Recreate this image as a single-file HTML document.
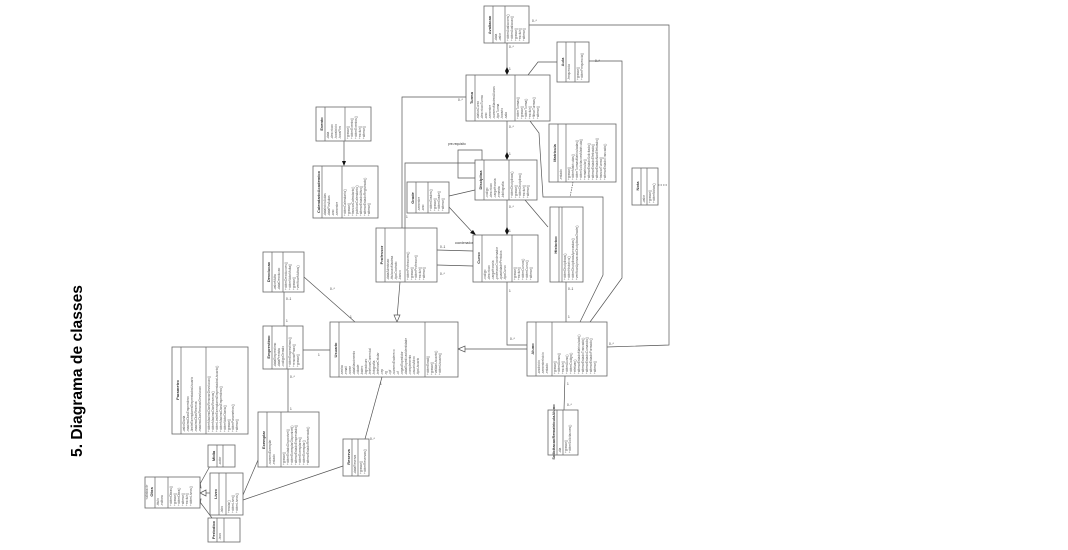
<!DOCTYPE html>
<html><head><meta charset="utf-8"><style>
html,body{margin:0;padding:0;background:#fff;width:1068px;height:550px;overflow:hidden}
svg{display:block}
text{font-family:"Liberation Sans",sans-serif;fill:#333}
.b{fill:#fff;stroke:#666;stroke-width:0.8}
.d{stroke:#666;stroke-width:0.7}
.l{stroke:#555;stroke-width:0.7;fill:none}
.n{font-size:4px;font-weight:bold}
.t{font-size:3.2px;fill:#555}
.m{font-size:3.2px;fill:#666}
</style></head><body>
<svg width="1068" height="550" viewBox="0 0 1068 550" xmlns="http://www.w3.org/2000/svg">
<text x="0" y="0" transform="translate(82,457) rotate(-90)" font-size="16" font-weight="bold" style="fill:#000" textLength="172" lengthAdjust="spacingAndGlyphs">5. Diagrama de classes</text>

<g class="l">
<line x1="210" y1="466" x2="200" y2="484"/>
<line x1="211" y1="493" x2="203" y2="493"/>
<line x1="212" y1="518" x2="200" y2="502"/>
<line x1="243" y1="495" x2="258" y2="460"/>
<line x1="243" y1="500" x2="343" y2="466"/>
<line x1="288" y1="369" x2="288" y2="412"/>
<line x1="284" y1="292" x2="284" y2="326"/>
<line x1="303" y1="350" x2="330" y2="350"/>
<line x1="304" y1="277" x2="355" y2="322"/>
<line x1="382" y1="377" x2="365" y2="439"/>
<line x1="400" y1="282" x2="397" y2="318"/>
<line x1="527" y1="349" x2="462" y2="349"/>
<line x1="437" y1="250" x2="473" y2="251"/>
<line x1="437" y1="265" x2="473" y2="266"/>
<polyline points="507,282 507,345 527,345"/>
<line x1="566" y1="282" x2="566" y2="322"/>
<line x1="565" y1="376" x2="564" y2="410"/>
<line x1="507" y1="200" x2="507" y2="232"/>
<line x1="449" y1="207" x2="474" y2="234"/>
<line x1="449" y1="196" x2="475" y2="190"/>
<line x1="507" y1="121" x2="507" y2="157"/>
<line x1="507" y1="43" x2="507" y2="72"/>
<polyline points="475,178 458,178 458,150 482,150 482,160"/>
<polyline points="402,228 402,97 466,97"/>
<polyline points="405,228 405,163 475,163"/>
<polyline points="528,75 538,62 557,62"/>
<polyline points="530,121 539,133 543,197 603,197 603,275 580,322"/>
<polyline points="589,61 622,61 622,278 590,322"/>
<polyline points="529,25 669,25 669,345 607,347"/>
<line x1="525" y1="200" x2="548" y2="227"/>
<line x1="344" y1="141" x2="344" y2="163"/>
<line x1="573" y1="182" x2="570" y2="197" stroke-dasharray="1.5,1"/>
<line x1="658" y1="185" x2="668" y2="185" stroke-dasharray="1.5,1"/>
</g>
<g fill="#fff" stroke="#555" stroke-width="0.7">
<polygon points="200,481 201,488 196,486"/>
<polygon points="200,493 206,490 206,496"/>
<polygon points="200,505 196,500 201,499"/>
<polygon points="397,322 394,315 400,315"/>
<polygon points="458,349 465,346 465,352"/>
</g>
<g fill="#111">
<polygon points="507,235 505,231 507,227 509,231"/>
<polygon points="507,160 505,156 507,152 509,156"/>
<polygon points="507,75 505,71 507,67 509,71"/>
<polygon points="476,235 470,233 473,230"/>
<polygon points="344,166 342,161 346,161"/>
</g>
<g class="m">
<text x="296" y="348">0..*</text><text x="318" y="356">1</text>
<text x="286" y="300">0..1</text><text x="286" y="322">1</text>
<text x="290" y="378">0..*</text><text x="290" y="410">1</text>
<text x="330" y="290">0..*</text><text x="350" y="318">1</text>
<text x="370" y="440">0..*</text><text x="380" y="385">1</text>
<text x="509" y="48">0..*</text><text x="509" y="70">1</text>
<text x="509" y="128">0..*</text><text x="509" y="155">1</text>
<text x="509" y="208">0..*</text><text x="509" y="232">1</text>
<text x="440" y="248">0..1</text><text x="440" y="275">0..*</text>
<text x="509" y="292">1</text><text x="510" y="340">0..*</text>
<text x="568" y="290">0..1</text><text x="568" y="318">1</text>
<text x="567" y="385">1</text><text x="567" y="406">0..*</text>
<text x="532" y="22">0..*</text><text x="609" y="345">0..*</text>
<text x="595" y="62">0..*</text><text x="560" y="58">1</text>
<text x="458" y="101">0..*</text><text x="406" y="218">1</text>
<text x="448" y="145">pre-requisito</text>
<text x="455" y="244">coordenador</text>
</g>

<g>
<rect class="b" x="145" y="477" width="55" height="31"/><line class="d" x1="155" y1="477" x2="155" y2="508"/><line class="d" x1="168" y1="477" x2="168" y2="508"/>
<text class="t" transform="translate(148,492) rotate(-90)" text-anchor="middle">«abstract»</text>
<text class="n" transform="translate(153,492) rotate(-90)" text-anchor="middle">Obra</text>
<text class="t" transform="translate(159,506) rotate(-90)">-titulo</text><text class="t" transform="translate(163,506) rotate(-90)">-editora</text>
<text class="t" transform="translate(172,506) rotate(-90)">+obterObras()</text><text class="t" transform="translate(176,506) rotate(-90)">+gravar()</text><text class="t" transform="translate(180,506) rotate(-90)">+obterObra()</text><text class="t" transform="translate(184,506) rotate(-90)">+alterar()</text><text class="t" transform="translate(188,506) rotate(-90)">+excluir()</text><text class="t" transform="translate(192,506) rotate(-90)">+obterLivros()</text>

<rect class="b" x="208" y="445" width="27" height="22"/><line class="d" x1="217" y1="445" x2="217" y2="467"/><line class="d" x1="223" y1="445" x2="223" y2="467"/>
<text class="n" transform="translate(215,456) rotate(-90)" text-anchor="middle">Midia</text><text class="t" transform="translate(221,465) rotate(-90)">-autor</text>

<rect class="b" x="210" y="473" width="33" height="42"/><line class="d" x1="219" y1="473" x2="219" y2="515"/><line class="d" x1="226" y1="473" x2="226" y2="515"/>
<text class="n" transform="translate(217,494) rotate(-90)" text-anchor="middle">Livro</text><text class="t" transform="translate(223,513) rotate(-90)">-isbn</text>
<text class="t" transform="translate(230,513) rotate(-90)">+enviar()</text><text class="t" transform="translate(234,513) rotate(-90)">+obterLivro()</text><text class="t" transform="translate(238,513) rotate(-90)">+obterLivros()</text>

<rect class="b" x="208" y="518" width="32" height="24"/><line class="d" x1="217" y1="518" x2="217" y2="542"/><line class="d" x1="224" y1="518" x2="224" y2="542"/>
<text class="n" transform="translate(215,530) rotate(-90)" text-anchor="middle">Periodico</text><text class="t" transform="translate(221,540) rotate(-90)">-issn</text>

<rect class="b" x="172" y="347" width="76" height="87"/><line class="d" x1="181" y1="347" x2="181" y2="434"/><line class="d" x1="206" y1="347" x2="206" y2="434"/>
<text class="n" transform="translate(179,390) rotate(-90)" text-anchor="middle">Parametro</text>
<text class="t" transform="translate(185,432) rotate(-90)">-valorDiaria</text><text class="t" transform="translate(189,432) rotate(-90)">-maximoDiasEmprestimo</text><text class="t" transform="translate(193,432) rotate(-90)">-limiteExemplaresEmprestadosUsuario</text><text class="t" transform="translate(197,432) rotate(-90)">-maximoDiasReserva</text><text class="t" transform="translate(201,432) rotate(-90)">-maximoDiasRenovarDevolucao</text>
<text class="t" transform="translate(210,432) rotate(-90)">+obterMaximoDiasRenovarDevolucao()</text><text class="t" transform="translate(214,432) rotate(-90)">+obterMaximoDiasReserva()</text><text class="t" transform="translate(218,432) rotate(-90)">+obterLimiteExemplaresEmprestadosUsuario()</text><text class="t" transform="translate(222,432) rotate(-90)">+obterMaximoDiasEmprestimo()</text><text class="t" transform="translate(226,432) rotate(-90)">+obterValorDiaria()</text><text class="t" transform="translate(230,432) rotate(-90)">+gravar()</text><text class="t" transform="translate(234,432) rotate(-90)">+obterParametros()</text><text class="t" transform="translate(238,432) rotate(-90)">+alterar()</text>

<rect class="b" x="258" y="412" width="61" height="55"/><line class="d" x1="267" y1="412" x2="267" y2="467"/><line class="d" x1="281" y1="412" x2="281" y2="467"/>
<text class="n" transform="translate(265,440) rotate(-90)" text-anchor="middle">Exemplar</text>
<text class="t" transform="translate(271,465) rotate(-90)">-numeroExemplar</text><text class="t" transform="translate(275,465) rotate(-90)">-estado</text>
<text class="t" transform="translate(285,465) rotate(-90)">+gravar()</text><text class="t" transform="translate(289,465) rotate(-90)">+obterEstadoDisponivel()</text><text class="t" transform="translate(293,465) rotate(-90)">+obterExemplarDisponivel()</text><text class="t" transform="translate(297,465) rotate(-90)">+alterarEstadoEmprestado()</text><text class="t" transform="translate(301,465) rotate(-90)">+obterExemplares()</text><text class="t" transform="translate(305,465) rotate(-90)">+obterExemplar()</text><text class="t" transform="translate(309,465) rotate(-90)">+alterarEstadoReservado()</text>

<rect class="b" x="263" y="326" width="40" height="43"/><line class="d" x1="272" y1="326" x2="272" y2="369"/><line class="d" x1="287" y1="326" x2="287" y2="369"/>
<text class="n" transform="translate(270,347) rotate(-90)" text-anchor="middle">Emprestimo</text>
<text class="t" transform="translate(276,367) rotate(-90)">-dataEmprestimo</text><text class="t" transform="translate(280,367) rotate(-90)">-dataPrevista</text><text class="t" transform="translate(284,367) rotate(-90)">-codigoGerado</text>
<text class="t" transform="translate(291,367) rotate(-90)">+obterEmprestimos()</text><text class="t" transform="translate(295,367) rotate(-90)">+renovarPrazo()</text><text class="t" transform="translate(299,367) rotate(-90)">+gravar()</text>

<rect class="b" x="263" y="252" width="41" height="40"/><line class="d" x1="272" y1="252" x2="272" y2="292"/><line class="d" x1="283" y1="252" x2="283" y2="292"/>
<text class="n" transform="translate(270,272) rotate(-90)" text-anchor="middle">Devolucao</text>
<text class="t" transform="translate(276,290) rotate(-90)">-valorMulta</text><text class="t" transform="translate(280,290) rotate(-90)">-dataDevolucao</text>
<text class="t" transform="translate(287,290) rotate(-90)">+obterDevolucoes()</text><text class="t" transform="translate(291,290) rotate(-90)">+obterValorMulta()</text><text class="t" transform="translate(295,290) rotate(-90)">+gravar()</text><text class="t" transform="translate(299,290) rotate(-90)">+verificarMultas()</text>

<rect class="b" x="330" y="322" width="128" height="55"/><line class="d" x1="339" y1="322" x2="339" y2="377"/><line class="d" x1="425" y1="322" x2="425" y2="377"/>
<text class="n" transform="translate(337,350) rotate(-90)" text-anchor="middle">Usuario</text>
<text class="t" transform="translate(343,375) rotate(-90)">-senha</text><text class="t" transform="translate(347,375) rotate(-90)">-email</text><text class="t" transform="translate(351,375) rotate(-90)">-nome</text><text class="t" transform="translate(355,375) rotate(-90)">-dataNascimento</text><text class="t" transform="translate(359,375) rotate(-90)">-cidade</text><text class="t" transform="translate(363,375) rotate(-90)">-bairro</text><text class="t" transform="translate(367,375) rotate(-90)">-logradouro</text><text class="t" transform="translate(371,375) rotate(-90)">-telefoneComercial</text><text class="t" transform="translate(375,375) rotate(-90)">-fotografia</text><text class="t" transform="translate(379,375) rotate(-90)">-telefoneCelular</text><text class="t" transform="translate(383,375) rotate(-90)">-cep</text><text class="t" transform="translate(387,375) rotate(-90)">-rg</text><text class="t" transform="translate(391,375) rotate(-90)">-cpf</text><text class="t" transform="translate(395,375) rotate(-90)">-numeroEndereco</text><text class="t" transform="translate(399,375) rotate(-90)">-uf</text><text class="t" transform="translate(403,375) rotate(-90)">-orgaoExpedidor</text><text class="t" transform="translate(407,375) rotate(-90)">-dataExpedicaoIdentidade</text><text class="t" transform="translate(411,375) rotate(-90)">-complemento</text><text class="t" transform="translate(415,375) rotate(-90)">-usuarioAtivo</text><text class="t" transform="translate(419,375) rotate(-90)">-tipoUsuario</text>
<text class="t" transform="translate(429,375) rotate(-90)">+obterEmail()</text><text class="t" transform="translate(433,375) rotate(-90)">+gravar()</text><text class="t" transform="translate(437,375) rotate(-90)">+validarUsuario()</text><text class="t" transform="translate(441,375) rotate(-90)">+obterUsuario()</text>

<rect class="b" x="343" y="439" width="26" height="37"/><line class="d" x1="352" y1="439" x2="352" y2="476"/><line class="d" x1="358" y1="439" x2="358" y2="476"/>
<text class="n" transform="translate(350,457) rotate(-90)" text-anchor="middle">Reserva</text><text class="t" transform="translate(356,474) rotate(-90)">-dataReserva</text>
<text class="t" transform="translate(362,474) rotate(-90)">+gravar()</text><text class="t" transform="translate(366,474) rotate(-90)">+obterReservas()</text>

<rect class="b" x="376" y="228" width="61" height="54"/><line class="d" x1="385" y1="228" x2="385" y2="282"/><line class="d" x1="405" y1="228" x2="405" y2="282"/>
<text class="n" transform="translate(383,255) rotate(-90)" text-anchor="middle">Professor</text>
<text class="t" transform="translate(389,280) rotate(-90)">-dataAdmissao</text><text class="t" transform="translate(393,280) rotate(-90)">-titulacaoMaxima</text><text class="t" transform="translate(397,280) rotate(-90)">-tipoContrato</text><text class="t" transform="translate(401,280) rotate(-90)">-banco</text>
<text class="t" transform="translate(409,280) rotate(-90)">+obterProfessores()</text><text class="t" transform="translate(413,280) rotate(-90)">+gravar()</text><text class="t" transform="translate(417,280) rotate(-90)">+obterProfessor()</text><text class="t" transform="translate(421,280) rotate(-90)">+excluir()</text><text class="t" transform="translate(425,280) rotate(-90)">+alterar()</text>

<rect class="b" x="473" y="235" width="65" height="47"/><line class="d" x1="482" y1="235" x2="482" y2="282"/><line class="d" x1="512" y1="235" x2="512" y2="282"/>
<text class="n" transform="translate(480,258) rotate(-90)" text-anchor="middle">Curso</text>
<text class="t" transform="translate(486,280) rotate(-90)">-codigo</text><text class="t" transform="translate(490,280) rotate(-90)">-descricao</text><text class="t" transform="translate(494,280) rotate(-90)">-cargaHoraria</text><text class="t" transform="translate(498,280) rotate(-90)">-professorCoordenador</text><text class="t" transform="translate(502,280) rotate(-90)">-quantidadePeriodos</text><text class="t" transform="translate(506,280) rotate(-90)">-tipoCurso</text>
<text class="t" transform="translate(516,280) rotate(-90)">+gravar()</text><text class="t" transform="translate(520,280) rotate(-90)">+excluir()</text><text class="t" transform="translate(524,280) rotate(-90)">+obterCursos()</text><text class="t" transform="translate(528,280) rotate(-90)">+obterCurso()</text><text class="t" transform="translate(532,280) rotate(-90)">+alterar()</text>

<rect class="b" x="550" y="207" width="33" height="75"/><line class="d" x1="559" y1="207" x2="559" y2="282"/><line class="d" x1="562" y1="207" x2="562" y2="282"/>
<text class="n" transform="translate(557,245) rotate(-90)" text-anchor="middle">Historico</text>
<text class="t" transform="translate(566,280) rotate(-90)">+obterDisciplinas()</text><text class="t" transform="translate(570,280) rotate(-90)">+obterHistorico()</text><text class="t" transform="translate(574,280) rotate(-90)">+obterDisciplinasAprovadas()</text><text class="t" transform="translate(578,280) rotate(-90)">+verificarAprovacaoDisciplinasGrade()</text>

<rect class="b" x="407" y="182" width="42" height="31"/><line class="d" x1="416" y1="182" x2="416" y2="213"/><line class="d" x1="428" y1="182" x2="428" y2="213"/>
<text class="n" transform="translate(414,198) rotate(-90)" text-anchor="middle">Grade</text>
<text class="t" transform="translate(420,211) rotate(-90)">-semestre</text><text class="t" transform="translate(424,211) rotate(-90)">-ano</text>
<text class="t" transform="translate(432,211) rotate(-90)">+obterGrades()</text><text class="t" transform="translate(436,211) rotate(-90)">+gravar()</text><text class="t" transform="translate(440,211) rotate(-90)">+obterGrade()</text><text class="t" transform="translate(444,211) rotate(-90)">+alterar()</text>

<rect class="b" x="475" y="160" width="62" height="40"/><line class="d" x1="484" y1="160" x2="484" y2="200"/><line class="d" x1="509" y1="160" x2="509" y2="200"/>
<text class="n" transform="translate(482,180) rotate(-90)" text-anchor="middle">Disciplina</text>
<text class="t" transform="translate(488,198) rotate(-90)">-codigo</text><text class="t" transform="translate(492,198) rotate(-90)">-descricao</text><text class="t" transform="translate(496,198) rotate(-90)">-cargaHoraria</text><text class="t" transform="translate(500,198) rotate(-90)">-ementa</text><text class="t" transform="translate(504,198) rotate(-90)">-bibliografia</text>
<text class="t" transform="translate(513,198) rotate(-90)">+obterDisciplinas()</text><text class="t" transform="translate(517,198) rotate(-90)">+gravar()</text><text class="t" transform="translate(521,198) rotate(-90)">+obterDisciplina()</text><text class="t" transform="translate(525,198) rotate(-90)">+excluir()</text><text class="t" transform="translate(529,198) rotate(-90)">+alterar()</text>

<rect class="b" x="466" y="75" width="84" height="46"/><line class="d" x1="475" y1="75" x2="475" y2="121"/><line class="d" x1="515" y1="75" x2="515" y2="121"/>
<text class="n" transform="translate(473,98) rotate(-90)" text-anchor="middle">Turma</text>
<text class="t" transform="translate(479,119) rotate(-90)">-statusCurso</text><text class="t" transform="translate(483,119) rotate(-90)">-descricaoTurma</text><text class="t" transform="translate(487,119) rotate(-90)">-ano</text><text class="t" transform="translate(491,119) rotate(-90)">-semestre</text><text class="t" transform="translate(495,119) rotate(-90)">-numeroMaximoAlunos</text><text class="t" transform="translate(499,119) rotate(-90)">-tipoTurma</text><text class="t" transform="translate(503,119) rotate(-90)">-horario</text><text class="t" transform="translate(507,119) rotate(-90)">-sala</text>
<text class="t" transform="translate(519,119) rotate(-90)">+obterTurmas()</text><text class="t" transform="translate(523,119) rotate(-90)">+gravar()</text><text class="t" transform="translate(527,119) rotate(-90)">+obterTurma()</text><text class="t" transform="translate(531,119) rotate(-90)">+excluir()</text><text class="t" transform="translate(535,119) rotate(-90)">+filtrarTurmas()</text><text class="t" transform="translate(539,119) rotate(-90)">+alterar()</text>

<rect class="b" x="484" y="6" width="45" height="37"/><line class="d" x1="493" y1="6" x2="493" y2="43"/><line class="d" x1="505" y1="6" x2="505" y2="43"/>
<text class="n" transform="translate(491,25) rotate(-90)" text-anchor="middle">Avaliacao</text>
<text class="t" transform="translate(497,41) rotate(-90)">-data</text><text class="t" transform="translate(501,41) rotate(-90)">-valor</text>
<text class="t" transform="translate(509,41) rotate(-90)">+obterAvaliacoes()</text><text class="t" transform="translate(513,41) rotate(-90)">+obterAvaliacao()</text><text class="t" transform="translate(517,41) rotate(-90)">+gravar()</text><text class="t" transform="translate(521,41) rotate(-90)">+excluir()</text><text class="t" transform="translate(525,41) rotate(-90)">+alterar()</text>

<rect class="b" x="557" y="42" width="32" height="40"/><line class="d" x1="566" y1="42" x2="566" y2="82"/><line class="d" x1="575" y1="42" x2="575" y2="82"/>
<text class="n" transform="translate(564,62) rotate(-90)" text-anchor="middle">Aula</text>
<text class="t" transform="translate(570,80) rotate(-90)">-frequencia</text><text class="t" transform="translate(579,80) rotate(-90)">+gravar()</text><text class="t" transform="translate(583,80) rotate(-90)">+obterFrequencia()</text>

<rect class="b" x="549" y="124" width="67" height="58"/><line class="d" x1="558" y1="124" x2="558" y2="182"/><line class="d" x1="566" y1="124" x2="566" y2="182"/>
<text class="n" transform="translate(556,153) rotate(-90)" text-anchor="middle">Matricula</text>
<text class="t" transform="translate(562,180) rotate(-90)">-estado</text>
<text class="t" transform="translate(570,180) rotate(-90)">+gravar()</text><text class="t" transform="translate(574,180) rotate(-90)">+obterMatriculas()</text><text class="t" transform="translate(578,180) rotate(-90)">+obterTurmasMatriculadas()</text><text class="t" transform="translate(582,180) rotate(-90)">+obterSolicitacoesMatricula()</text><text class="t" transform="translate(586,180) rotate(-90)">+rematricular()</text><text class="t" transform="translate(590,180) rotate(-90)">+alterarEstadoSolicitado()</text><text class="t" transform="translate(594,180) rotate(-90)">+alterarEstadoEfetivado()</text><text class="t" transform="translate(598,180) rotate(-90)">+alterarEstadoNaoEfetivado()</text><text class="t" transform="translate(602,180) rotate(-90)">+trancarTurma()</text><text class="t" transform="translate(606,180) rotate(-90)">+alterarEstadoTrancado()</text>

<rect class="b" x="632" y="168" width="26" height="37"/><line class="d" x1="641" y1="168" x2="641" y2="205"/><line class="d" x1="647" y1="168" x2="647" y2="205"/>
<text class="n" transform="translate(639,186) rotate(-90)" text-anchor="middle">Nota</text><text class="t" transform="translate(645,203) rotate(-90)">-valor</text>
<text class="t" transform="translate(651,203) rotate(-90)">+gravar()</text><text class="t" transform="translate(655,203) rotate(-90)">+obterNotas()</text>

<rect class="b" x="316" y="107" width="55" height="34"/><line class="d" x1="325" y1="107" x2="325" y2="141"/><line class="d" x1="345" y1="107" x2="345" y2="141"/>
<text class="n" transform="translate(323,124) rotate(-90)" text-anchor="middle">Evento</text>
<text class="t" transform="translate(329,139) rotate(-90)">-data</text><text class="t" transform="translate(333,139) rotate(-90)">-descricao</text><text class="t" transform="translate(337,139) rotate(-90)">-horaInicio</text><text class="t" transform="translate(341,139) rotate(-90)">-horaFim</text>
<text class="t" transform="translate(349,139) rotate(-90)">+gravar()</text><text class="t" transform="translate(353,139) rotate(-90)">+obterEvento()</text><text class="t" transform="translate(357,139) rotate(-90)">+obterEventos()</text><text class="t" transform="translate(361,139) rotate(-90)">+excluir()</text><text class="t" transform="translate(365,139) rotate(-90)">+alterar()</text>

<rect class="b" x="313" y="166" width="65" height="52"/><line class="d" x1="322" y1="166" x2="322" y2="218"/><line class="d" x1="342" y1="166" x2="342" y2="218"/>
<text class="n" transform="translate(320,192) rotate(-90)" text-anchor="middle">CalendarioAcademico</text>
<text class="t" transform="translate(326,216) rotate(-90)">-dataInicioAulas</text><text class="t" transform="translate(330,216) rotate(-90)">-dataFimAulas</text><text class="t" transform="translate(334,216) rotate(-90)">-ano</text><text class="t" transform="translate(338,216) rotate(-90)">-semestre</text>
<text class="t" transform="translate(346,216) rotate(-90)">+obterCalendario()</text><text class="t" transform="translate(350,216) rotate(-90)">+gravar()</text><text class="t" transform="translate(354,216) rotate(-90)">+trancarCalendario()</text><text class="t" transform="translate(358,216) rotate(-90)">+publicarCalendario()</text><text class="t" transform="translate(362,216) rotate(-90)">+alterarEstadoAtivo()</text><text class="t" transform="translate(366,216) rotate(-90)">+alterarEstadoRegistrado()</text><text class="t" transform="translate(370,216) rotate(-90)">+alterar()</text>

<rect class="b" x="527" y="322" width="80" height="54"/><line class="d" x1="536" y1="322" x2="536" y2="376"/><line class="d" x1="552" y1="322" x2="552" y2="376"/>
<text class="n" transform="translate(534,349) rotate(-90)" text-anchor="middle">Aluno</text>
<text class="t" transform="translate(540,374) rotate(-90)">-anoInicio</text><text class="t" transform="translate(544,374) rotate(-90)">-semestreInicio</text><text class="t" transform="translate(548,374) rotate(-90)">-estado</text>
<text class="t" transform="translate(556,374) rotate(-90)">+gravar()</text><text class="t" transform="translate(560,374) rotate(-90)">+obterAlunos()</text><text class="t" transform="translate(564,374) rotate(-90)">+excluir()</text><text class="t" transform="translate(568,374) rotate(-90)">+obterAluno()</text><text class="t" transform="translate(572,374) rotate(-90)">+obterCodigo()</text><text class="t" transform="translate(576,374) rotate(-90)">+efetivar()</text><text class="t" transform="translate(580,374) rotate(-90)">+alterarEstadoMatriculado()</text><text class="t" transform="translate(584,374) rotate(-90)">+alterarEstadoTrancado()</text><text class="t" transform="translate(588,374) rotate(-90)">+alterarEstadoCursando()</text><text class="t" transform="translate(592,374) rotate(-90)">+alterarEstadoFormado()</text><text class="t" transform="translate(596,374) rotate(-90)">+alterar()</text>

<rect class="b" x="548" y="410" width="30" height="45"/><line class="d" x1="557" y1="410" x2="557" y2="455"/><line class="d" x1="563" y1="410" x2="563" y2="455"/>
<text class="n" transform="translate(555,432) rotate(-90)" text-anchor="middle" font-size="3.4">SolicitacaoRematriculaAluno</text><text class="t" transform="translate(561,453) rotate(-90)">-dia</text>
<text class="t" transform="translate(567,453) rotate(-90)">+gravar()</text><text class="t" transform="translate(571,453) rotate(-90)">+obterSolicitacoes()</text>
</g>
</svg>
</body></html>
